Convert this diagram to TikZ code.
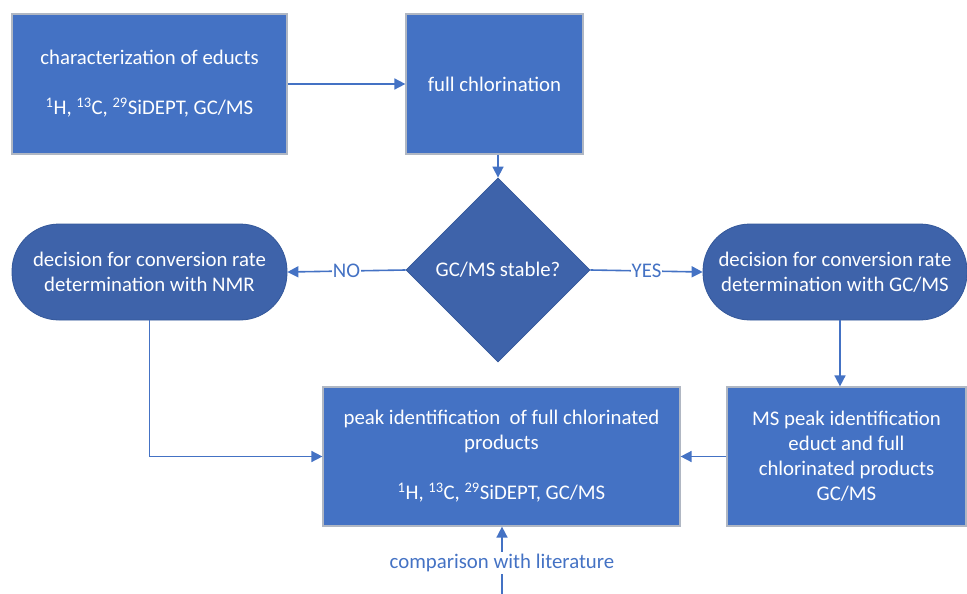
\documentclass[tikz,border=0pt]{standalone}
\usepackage{fontspec}
\setmainfont{Carlito}
\usetikzlibrary{shapes.geometric,arrows.meta}

\definecolor{boxblue}{HTML}{4472C4}
\definecolor{darkblue}{HTML}{3E63AA}
\definecolor{edgegray}{HTML}{B0B7C3}
\definecolor{darkedge}{HTML}{34589A}

\begin{document}
\begin{tikzpicture}[x=1pt,y=-1pt,
	font=\fontsize{20.8}{25}\selectfont,
	box/.style={draw=edgegray,line width=1.2pt,fill=boxblue,text=white,align=center,inner sep=0pt},
	term/.style={draw=darkedge,line width=0.8pt,fill=darkblue,text=white,align=center,inner sep=0pt,rounded corners=47pt,minimum height=96pt},
	choice/.style={diamond,draw=darkedge,line width=0.8pt,fill=darkblue,text=white,inner sep=0pt,minimum width=184pt,minimum height=184pt},
	flow/.style={draw=boxblue,line width=1.6pt,-{Triangle[length=11pt,width=11pt]}},
	tag/.style={fill=white,text=boxblue,inner sep=1pt}]
	\useasboundingbox (0,0) rectangle (967,594);
	\node[box,minimum width=275pt,minimum height=140pt] (educts) at (149.5,84) {characterization of educts\\[25pt]\textsuperscript{1}H, \textsuperscript{13}C, \textsuperscript{29}SiDEPT, GC/MS};
	\node[box,minimum width=177pt,minimum height=140pt] (chlor) at (494.5,84) {full chlorination};
	\node[choice] (stable) at (498,270) {GC/MS stable?};
	\node[term,minimum width=275pt] (nmr) at (149.5,272) {decision for conversion rate\\determination with NMR};
	\node[term,minimum width=264pt] (gcms) at (835,272) {decision for conversion rate\\determination with GC/MS};
	\node[box,minimum width=357pt,minimum height=139pt] (peak) at (501.5,456.5) {peak identification \ of full chlorinated\\products\\[25pt]\textsuperscript{1}H, \textsuperscript{13}C, \textsuperscript{29}SiDEPT, GC/MS};
	\node[box,minimum width=239pt,minimum height=139pt] (mspeak) at (846.5,456.5) {MS peak identification\\educt and full\\chlorinated products\\GC/MS};
	\node[text=boxblue,inner sep=2pt] (lit) at (502,563) {comparison with literature};
	\coordinate (litend) at (502,594);

	\draw[flow] (educts) -- (chlor);
	\draw[flow] (stable.north |- chlor.south) -- (stable.north);
	\draw[flow] (stable.west) -- node[tag] {NO} (nmr.east);
	\draw[flow] (stable.east) -- node[tag] {YES} (gcms.west);
	\draw[flow] (nmr.south) |- (peak.west);
	\draw[flow] ([xshift=5pt]gcms.south) -- ([xshift=5pt]gcms.south |- mspeak.north);
	\draw[flow] (mspeak.west) -- (peak.east |- mspeak.west);
	\draw[flow] (lit.north) -- (peak.south -| lit.north);
	\draw[draw=boxblue,line width=1.6pt] (litend) -- (lit.south);
\end{tikzpicture}
\end{document}
